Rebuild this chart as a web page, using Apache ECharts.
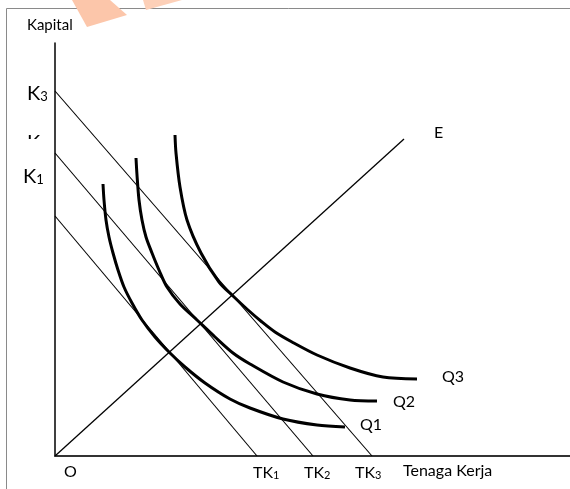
<!DOCTYPE html>
<html><head><meta charset="utf-8">
<script src="https://cdn.jsdelivr.net/npm/echarts@6/dist/echarts.min.js"></script>
<style>html,body{margin:0;padding:0;background:#fff}#c{width:570px;height:489px}</style>
</head><body><div id="c"></div>
<script>
// Budget (isocost) lines: [labour, capital] endpoints
const budgetK1 = [[0, 240], [202, 0]];
const budgetK2 = [[0, 303], [258, 0]];
const budgetK3 = [[0, 365], [317, 0]];
// Expansion path
const rayE = [[0, 0], [349, 317]];
// Isoquants
const curveQ1 = [[48,272],[49,256],[51,236],[54,219],[58,203],[63,186],[69,169],[77,153],[87,136],[100,119],[115,103],[130,89],[150,73],[175,57],[195,48],[228,37],[262,31],[290,29]];
const curveQ2 = [[81,298],[82,281],[84,256],[87,236],[91,219],[97,203],[104,186],[112,169],[125,152],[142,136],[160,119],[178,103],[195,92],[228,74],[262,62],[295,56],[322,55]];
const curveQ3 = [[120,321],[121,303],[125,269],[132,236],[146,203],[164,174],[178,160],[193,146],[207,134],[220,124],[237,114],[262,101],[295,88],[328,79],[362,77]];
// Text labels
const yLabels = ['K3', 'K2', 'K1'];
const xLabels = ['TK1', 'TK2', 'TK3'];
const curveLabels = ['Q1', 'Q2', 'Q3'];
const axisTitleY = 'Kapital';
const axisTitleX = 'Tenaga Kerja';
const originLabel = 'O';
const rayLabel = 'E';

const FONT = 'Lato';
const chart = echarts.init(document.getElementById('c'), null, {renderer: 'canvas'});

function plain(text, x, y, size) {
  return {type: 'text', x: x, y: y, z: 10,
    style: {text: text, font: size + 'px ' + FONT, fill: '#000', align: 'left', verticalAlign: 'middle'}};
}
function sub(label, x, y, mainSize, subSize) {
  const main = label.slice(0, -1), s = label.slice(-1);
  return {type: 'text', x: x, y: y, z: 10,
    style: {text: '{k|' + main + '}{s|' + s + '}', align: 'left', verticalAlign: 'middle', fill: '#000',
      rich: {
        k: {fontSize: mainSize, fontFamily: FONT, lineHeight: mainSize + 3, verticalAlign: 'bottom', fill: '#000'},
        s: {fontSize: subSize, fontFamily: FONT, lineHeight: subSize, verticalAlign: 'bottom', fill: '#000'}
      }}};
}

function lineSeries(data, width, smooth) {
  return {type: 'line', data: data, symbol: 'none', smooth: smooth || false, silent: true,
    lineStyle: {color: '#000', width: width}, z: 3};
}

const option = {
  animation: false,
  backgroundColor: '#fff',
  grid: {left: 55, right: 0, top: 43, bottom: 33},
  xAxis: {type: 'value', min: 0, max: 515,
    axisLine: {show: true, lineStyle: {color: '#333', width: 2}},
    axisTick: {show: false}, axisLabel: {show: false}, splitLine: {show: false}},
  yAxis: {type: 'value', min: 0, max: 413,
    axisLine: {show: true, lineStyle: {color: '#000', width: 1.5}},
    axisTick: {show: false}, axisLabel: {show: false}, splitLine: {show: false}},
  series: [
    lineSeries(budgetK1, 1.1),
    lineSeries(budgetK2, 1.1),
    lineSeries(budgetK3, 1.1),
    lineSeries(rayE, 1.3),
    lineSeries(curveQ1, 3, 0.3),
    lineSeries(curveQ2, 3, 0.3),
    lineSeries(curveQ3, 3, 0.3)
  ],
  graphic: [
    {type: 'rect', z: 1, shape: {x: 6.5, y: 8.5, width: 620, height: 620},
      style: {fill: 'none', stroke: '#8a8a8a', lineWidth: 1}},
    {type: 'polygon', z: 2, shape: {points: [[72,0],[110,0],[127,15],[87,27]]},
      style: {fill: '#fcc6aa'}},
    {type: 'polygon', z: 2, shape: {points: [[143,0],[182,0],[146,10]]},
      style: {fill: '#fdd0b8'}},
    plain(axisTitleY, 27, 25, 15),
    sub(yLabels[0], 27, 92, 20, 13),
    sub(yLabels[1], 27, 141, 20, 13),
    {type: 'rect', z: 11, shape: {x: 18, y: 139, width: 32, height: 20}, style: {fill: '#fff'}},
    sub(yLabels[2], 23, 175, 20, 13),
    plain(originLabel, 64, 472, 16),
    sub(xLabels[0], 253, 471, 16, 11),
    sub(xLabels[1], 304, 471, 16, 11),
    sub(xLabels[2], 355, 471, 16, 11),
    plain(axisTitleX, 403, 471, 16),
    plain(curveLabels[0], 360, 425, 16),
    plain(curveLabels[1], 393, 402, 16),
    plain(curveLabels[2], 442, 377, 16),
    plain(rayLabel, 434, 133, 16)
  ]
};
chart.setOption(option);
</script>
</body></html>
